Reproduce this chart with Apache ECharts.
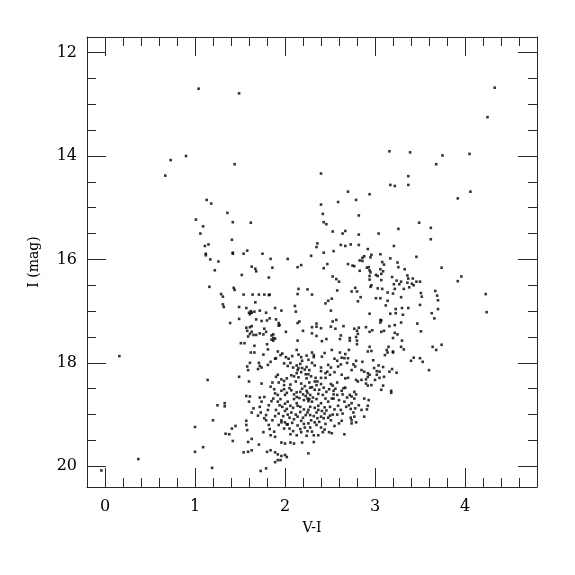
<!DOCTYPE html>
<html>
<head>
<meta charset="utf-8">
<script src="https://cdn.jsdelivr.net/npm/echarts@6/dist/echarts.min.js"></script>
<style>html,body{margin:0;padding:0;background:#fff}#c{width:575px;height:575px}</style>
</head>
<body>
<div id="c"></div>
<script>
// [V-I, I] pairs, grouped by region of the diagram
const brightStars = [[1.04,12.70],[1.49,12.79],[0.90,14.00],[0.73,14.08],[1.44,14.16],[0.67,14.38],[3.16,13.91],[2.40,14.34],[4.33,12.68],[4.25,13.25],[3.39,13.93],[3.75,13.99],[4.05,13.96],[3.68,14.16],[3.37,14.39],[3.17,14.56],[3.22,14.58],[3.37,14.56]];
const redSide = [[4.06,14.69],[3.92,14.82],[3.49,15.29],[3.62,15.39],[3.26,15.41],[3.62,15.61],[3.21,15.74],[3.46,15.95],[3.17,15.98],[3.25,16.06],[3.26,16.15],[3.33,16.19],[3.74,16.16],[3.96,16.33],[3.92,16.42],[3.36,16.31],[3.19,16.34],[3.37,16.37],[3.42,16.37],[3.24,16.41],[3.29,16.43],[3.36,16.45],[3.50,16.43],[3.46,16.43],[3.41,16.47],[3.43,16.50],[3.21,16.48],[3.27,16.48],[3.38,16.54],[3.32,16.57],[3.22,16.57],[3.14,16.64],[3.20,16.66],[3.29,16.73],[3.51,16.65],[3.52,16.72],[3.67,16.61],[3.69,16.70],[3.70,16.79],[3.70,16.96],[4.23,16.67],[3.14,16.80],[3.12,16.89],[3.50,16.88],[3.23,16.96],[3.30,16.94],[3.37,16.94],[3.17,17.05],[3.23,17.04],[3.31,17.07],[3.63,17.04],[3.66,17.14],[4.24,17.02],[3.16,17.29],[3.22,17.27],[3.29,17.22],[3.47,17.24],[3.51,17.39],[3.22,17.42],[3.25,17.45],[3.20,17.52],
[3.30,17.57],[3.15,17.69],[3.13,17.75],[3.14,17.80],[3.20,17.78],[3.20,17.80],[3.11,17.85],[3.29,17.69],[3.32,17.74],[3.64,17.69],[3.68,17.75],[3.74,17.65],[3.40,17.96],[3.43,17.90],[3.50,17.91],[3.53,17.98],[3.60,18.14],[3.16,18.17],[3.19,18.12],[3.24,18.19],[3.18,18.54],[3.18,18.58]];
const blueSide = [[1.13,14.85],[1.18,14.92],[1.36,15.10],[1.01,15.23],[1.42,15.28],[1.09,15.36],[1.06,15.50],[1.41,15.62],[1.15,15.71],[1.11,15.74],[1.12,15.89],[1.12,15.92],[1.42,15.87],[1.42,15.89],[1.17,16.00],[1.26,16.04],[1.22,16.21],[1.16,16.53],[1.43,16.55],[1.44,16.59],[1.29,16.67],[1.31,16.72],[1.31,16.87],[1.32,16.92],[1.49,16.92],[1.39,17.23],[1.49,17.15],
[0.16,17.87],[1.14,18.33],[1.49,18.27],[1.25,18.82],[1.33,18.78],[1.33,18.84],[1.20,19.11],[1.00,19.24],[1.45,19.22],[1.41,19.27],[1.34,19.37],[1.38,19.38],[1.42,19.51],[1.09,19.63],[1.00,19.72],[0.37,19.86],[1.19,20.03],[-0.04,20.08]];
const upperBranch = [[2.70,14.69],[2.94,14.74],[2.59,14.89],[2.79,14.85],[2.40,14.94],[2.42,15.12],[2.82,15.15],[1.62,15.29],[2.43,15.28],[2.46,15.32],[2.53,15.46],[2.64,15.50],[2.67,15.45],[2.82,15.52],[3.04,15.50],[2.36,15.69],[2.35,15.76],[2.62,15.72],[2.67,15.74],[2.73,15.71],[2.82,15.72],[2.92,15.80],[1.58,15.83],[1.54,15.89],[2.54,15.84],[1.75,15.89],[2.43,15.87],[2.29,15.93],[1.84,15.99],[2.03,15.99],[2.86,15.97],[2.88,15.94],[2.96,15.91],[2.95,15.96],[3.06,15.90],[1.63,16.14],[1.67,16.18],[1.68,16.23],[1.86,16.16],[2.18,16.11],[2.14,16.15],[2.47,16.09],[2.43,16.17],[2.70,16.09],[2.75,16.12],[2.83,16.02],[2.86,16.03],[2.91,16.16],[2.93,16.15],[2.94,16.21],[2.95,16.25],[2.77,16.13],[2.83,16.22],[3.08,16.05],[3.10,16.10],[3.06,16.19],[3.09,16.23],[3.07,16.28],[1.52,16.30],[1.82,16.35],[2.53,16.33],[2.57,16.38],[2.60,16.43],[3.01,16.30],[3.03,16.32],[2.94,16.32],[2.94,16.39],[3.07,16.40],[2.96,16.50],[2.95,16.53],[2.15,16.57],[2.25,16.58],[2.58,16.60],[2.74,16.62],[2.78,16.55],[2.80,16.62],[3.03,16.56],[3.08,16.57],[1.54,16.68],[1.64,16.68],[1.71,16.68],[1.77,16.68],[1.82,16.69],[1.83,16.68],[2.14,16.67],[2.30,16.68],[2.81,16.81],[2.52,16.76],[2.48,16.80],[2.45,16.85],[2.84,16.73],[3.01,16.75],[3.06,16.75],[1.67,16.83],[2.11,16.90],[2.12,17.01],[1.62,17.00],[1.60,17.03],[1.61,17.06],[1.66,17.01],[1.63,17.03],[1.57,16.94],[1.72,16.99],[1.79,17.03],[1.89,16.94],[1.96,16.99],[2.51,16.99],[2.94,17.05],[1.68,17.16],[1.74,17.19],[1.80,17.18],[1.83,17.14],[1.90,17.16],[1.93,17.23],[1.94,17.27],[1.93,17.28],[2.16,17.20],[2.14,17.23],[2.35,17.24],[2.53,17.20],[2.57,17.17],[3.06,17.17],[3.07,17.18],[3.06,17.22],[1.57,17.32],[1.61,17.31],[1.63,17.29],[1.58,17.38],[1.63,17.40],[1.61,17.44],[1.65,17.46],[1.68,17.46],[1.72,17.43],[1.77,17.34],[1.79,17.40],[1.76,17.45],[1.85,17.47],[1.87,17.45],[1.87,17.52],[1.89,17.53],[1.85,17.55],[2.01,17.40],[2.20,17.38],[2.30,17.31],[2.30,17.43],[2.35,17.30],[2.35,17.48],[2.40,17.33],[2.46,17.54],[2.51,17.30],[2.56,17.34],[2.65,17.29],[2.72,17.52],[2.77,17.34],[2.80,17.38],[2.79,17.50],[2.82,17.32],[2.81,17.44],[2.90,17.31],[2.94,17.40],[2.97,17.37],[3.07,17.40],[3.10,17.38],[2.62,17.47],[2.61,17.54],[1.59,17.49]];
const mainClump = [[1.51,17.62],[1.55,17.62],[2.14,17.57],[2.41,17.58],[1.80,17.64],[1.81,17.74],[1.66,17.67],[1.87,17.57],[2.80,17.64],[2.72,17.57],[2.80,17.57],[2.94,17.69],[2.96,17.77],[2.61,17.80],[2.71,17.75],[2.67,17.83],[2.92,17.78],[1.62,17.80],[1.66,17.80],[1.92,17.78],[1.95,17.85],[1.97,17.82],[2.01,17.89],[2.04,17.92],[2.08,17.87],[2.30,17.80],[2.32,17.85],[2.32,17.89],[2.15,17.84],[2.18,17.89],[2.19,17.96],[1.76,17.84],[1.89,17.92],[1.90,17.91],[1.84,17.98],[1.61,18.00],[1.71,18.00],[1.72,18.06],[1.81,18.04],[2.55,17.92],[2.58,17.96],[2.63,17.90],[2.66,17.91],[2.70,17.91],[2.69,18.00],[2.59,18.07],[2.62,18.03],[2.76,18.03],[2.79,17.96],[2.86,17.98],[2.98,17.95],[3.04,18.05],[3.09,18.08],[3.05,18.17],[1.58,18.07],[1.59,18.14],[1.70,18.12],[1.74,18.09],[1.99,18.01],[2.03,18.06],[2.06,18.00],[2.09,18.09],[2.13,18.05],[2.15,18.10],[2.17,18.02],[2.14,18.14],[2.19,18.10],[2.22,18.13],[2.24,18.08],[2.27,18.14],[2.30,18.00],[2.33,18.05],[2.40,18.09],[2.40,18.16],[2.45,18.20],[1.90,18.27],[1.92,18.23],[1.96,18.32],[1.93,18.38],[1.99,18.35],[1.86,18.38],[2.07,18.24],[2.10,18.26],[2.13,18.20],[2.15,18.28],[2.18,18.18],[2.23,18.22],[2.24,18.30],[2.26,18.22],[2.29,18.26],[2.34,18.29],[2.33,18.36],[2.36,18.36],[2.40,18.29],[2.45,18.29],[2.40,18.41],[2.43,18.48],[2.51,18.41],[2.53,18.44],[2.49,18.51],[2.54,18.54],[2.58,18.38],[1.74,18.40],[1.60,18.36],[1.57,18.64],[1.61,18.65],[1.60,18.75],[1.84,18.46],[1.88,18.51],[1.89,18.59],[1.92,18.62],[1.96,18.54],[1.99,18.51],[2.00,18.62],[2.02,18.58],[2.05,18.49],[2.07,18.53],[2.10,18.61],[2.13,18.66],[2.13,18.57],[2.17,18.56],[2.20,18.61],[2.23,18.64],[2.24,18.54],[2.28,18.62],[2.31,18.67],[2.25,18.69],[2.27,18.70],[2.26,18.74],[2.30,18.75],[2.33,18.52],[2.37,18.60],[2.35,18.43],[2.42,18.62],[2.45,18.69],[2.48,18.75],[2.52,18.69],[2.54,18.61],[2.54,18.69],[2.63,18.54],[2.65,18.49],[2.67,18.48],[2.64,18.61],[2.69,18.67],[2.72,18.62],[2.74,18.65],[2.77,18.69],[2.77,18.56],[2.79,18.61],[2.81,18.36],[2.85,18.33],[2.90,18.40],[2.90,18.32],[2.92,18.20],[2.94,18.23],[2.92,18.27],[2.88,18.17],[2.79,18.33],[2.67,18.30],[2.70,18.29],[2.92,18.44],[2.88,18.69],[2.92,18.83],[2.82,18.82],[2.78,18.88],[2.66,18.75],[2.71,18.82],[2.74,18.78],[2.68,18.85],[2.73,18.89],[2.76,18.96],[2.59,18.83],[2.58,19.00],[2.64,18.98],[2.62,18.91],[2.73,19.06],[2.74,19.11],[2.77,19.04],[2.63,19.12],[2.60,19.17],[2.66,19.38],[2.53,19.00],[2.50,19.02],[2.48,19.06],[2.51,19.11],[2.41,18.93],[2.44,18.98],[2.40,19.04],[2.43,19.07],[2.33,18.87],[2.37,18.91],[2.35,18.96],[2.32,19.03],[2.36,19.07],[2.28,18.85],[2.26,18.91],[2.23,19.01],[2.20,19.06],[2.18,19.12],[2.28,19.01],[2.29,19.11],[2.26,19.17],[2.13,18.78],[2.14,18.83],[2.17,18.85],[2.09,18.87],[2.06,18.83],[2.03,18.75],[2.00,18.79],[1.97,18.85],[2.02,18.89],[2.07,18.96],[2.12,19.00],[2.14,19.04],[2.10,19.09],[2.05,19.06],[2.03,19.00],[1.98,19.03],[1.96,19.11],[2.00,19.15],[2.03,19.19],[1.90,18.91],[1.93,18.98],[1.89,19.03],[1.86,19.11],[1.81,18.91],[1.79,19.01],[1.77,19.07],[1.79,19.11],[1.72,18.67],[1.74,18.75],[1.77,18.66],[1.72,18.85],[1.73,18.96],[1.70,19.02],[1.82,18.82],[1.85,18.74],[1.87,18.69],[1.92,18.75],[1.94,18.82],[1.65,18.88],[1.63,18.96],[1.57,19.12],[1.57,19.20],[1.58,19.30],[1.76,19.34],[1.83,19.28],[1.84,19.40],[1.88,19.33],[1.89,19.43],[1.96,19.15],[1.99,19.27],[2.02,19.19],[2.05,19.27],[2.09,19.32],[2.06,19.38],[2.14,19.21],[2.17,19.28],[2.18,19.34],[2.13,19.40],[2.22,19.25],[2.25,19.32],[2.30,19.33],[2.32,19.40],[2.24,19.41],[2.35,19.20],[2.40,19.25],[2.42,19.34],[2.44,19.29],[2.37,19.40],[2.49,19.34],[2.52,19.36],[1.59,19.53],[1.63,19.47],[1.71,19.58],[1.96,19.54],[2.00,19.56],[2.06,19.54],[2.10,19.56],[2.19,19.54],[2.32,19.53],[1.80,19.72],[1.84,19.69],[1.89,19.73],[1.92,19.77],[1.96,19.80],[2.00,19.78],[1.54,19.73],[1.59,19.72],[1.63,19.69],[2.02,19.82],[1.89,19.92],[1.92,19.88],[1.95,19.88],[2.26,19.75],[1.73,20.09],[1.79,20.04],[2.85,18.91],[2.91,18.90],[2.88,19.04],[2.74,19.17],[2.79,19.15],[2.93,18.72],[2.96,18.43],[3.00,18.33],[3.07,18.52],[3.09,18.44],[3.02,18.23],[3.05,18.29],[3.10,18.27],[2.99,18.10],[3.02,18.16],[2.85,18.14],[2.74,18.14],[2.78,18.07],[2.63,18.23],[2.55,18.18],[2.50,18.23],[2.47,18.17],[2.48,18.04],[2.51,18.09],[2.26,17.94],[2.24,17.86],[2.13,17.75],[2.41,17.88],[2.44,17.81],[2.52,17.75]];
const denseCore = [[2.18,18.40],[2.22,18.45],[2.27,18.38],[2.12,18.36],[2.06,18.42],[2.02,18.30],[2.30,18.47],[2.19,18.50],[2.25,18.58],[2.16,18.68],[2.21,18.72],[2.10,18.70],[2.35,18.70],[2.40,18.78],[2.37,18.83],[2.44,18.86],[2.50,18.85],[2.55,18.90],[2.46,18.92],[2.21,18.90],[2.17,18.95],[2.25,18.96],[2.00,18.93],[1.95,18.70],[1.99,18.43],[2.28,18.48],[2.38,18.52],[2.46,18.56],[2.58,18.62],[2.60,18.72],[2.33,19.15],[2.38,19.14],[2.45,19.18],[2.55,19.22],[2.21,19.18],[2.08,19.16],[1.93,19.20],[1.82,19.20],[2.28,19.25],[2.56,18.50]];

const xTickLabels = [0, 1, 2, 3, 4];
const yTickLabels = [12, 14, 16, 18, 20];
const xMinorTicks = [];
for (let i = 0; i <= 24; i++) { const v = Math.round((-0.2 + 0.2 * i) * 10) / 10; if (v > -0.2 && v < 4.8 && !xTickLabels.includes(v)) xMinorTicks.push(v); }
const yMinorTicks = [];
for (let v = 12; v <= 20.0001; v += 0.5) { if (!yTickLabels.includes(v)) yMinorTicks.push(v); }

const allStars = [].concat(brightStars, redSide, blueSide, upperBranch, mainClump, denseCore);

const lineColor = '#2a2a2a';
const labelFont = { color: '#000', fontFamily: 'DejaVu Serif', fontSize: 16 };

function xAx(pos, ticks, len, withLine, withLabel) {
  return {
    type: 'value', position: pos, min: -0.2, max: 4.8, gridIndex: 0,
    axisLine: { show: withLine, onZero: false, lineStyle: { color: lineColor, width: 1 } },
    axisTick: { show: true, inside: true, length: len, customValues: ticks, lineStyle: { color: lineColor, width: 1 } },
    axisLabel: withLabel ? Object.assign({ show: true, margin: 12, customValues: xTickLabels }, labelFont) : { show: false },
    splitLine: { show: false },
    name: withLabel ? 'V-I' : '', nameLocation: 'middle', nameGap: 34,
    nameTextStyle: { color: '#000', fontFamily: 'DejaVu Serif', fontSize: 14 }
  };
}
function yAx(pos, ticks, len, withLine, withLabel) {
  return {
    type: 'value', position: pos, min: 11.7, max: 20.4, inverse: true, gridIndex: 0,
    axisLine: { show: withLine, onZero: false, lineStyle: { color: lineColor, width: 1 } },
    axisTick: { show: true, inside: true, length: len, customValues: ticks, lineStyle: { color: lineColor, width: 1 } },
    axisLabel: withLabel ? Object.assign({ show: true, margin: 10, customValues: yTickLabels }, labelFont) : { show: false },
    splitLine: { show: false },
    name: withLabel ? 'I (mag)' : '', nameLocation: 'middle', nameGap: 46, nameRotate: 90,
    nameTextStyle: { color: '#000', fontFamily: 'DejaVu Serif', fontSize: 14 }
  };
}

const chart = echarts.init(document.getElementById('c'), null, { renderer: 'canvas' });
chart.setOption({
  backgroundColor: '#fff',
  animation: false,
  grid: { left: 87, top: 37, width: 450, height: 450, containLabel: false },
  xAxis: [
    xAx('bottom', xTickLabels, 19, true, true),
    xAx('bottom', xMinorTicks, 9, false, false),
    xAx('top', xTickLabels, 19, true, false),
    xAx('top', xMinorTicks, 9, false, false)
  ],
  yAxis: [
    yAx('left', yTickLabels, 19, true, true),
    yAx('left', yMinorTicks, 9, false, false),
    yAx('right', yTickLabels, 19, true, false),
    yAx('right', yMinorTicks, 9, false, false)
  ],
  series: [{
    type: 'scatter', xAxisIndex: 0, yAxisIndex: 0,
    data: allStars, symbol: 'rect', symbolSize: 2.6,
    itemStyle: { color: '#000' }, silent: true
  }]
});
</script>
</body>
</html>
